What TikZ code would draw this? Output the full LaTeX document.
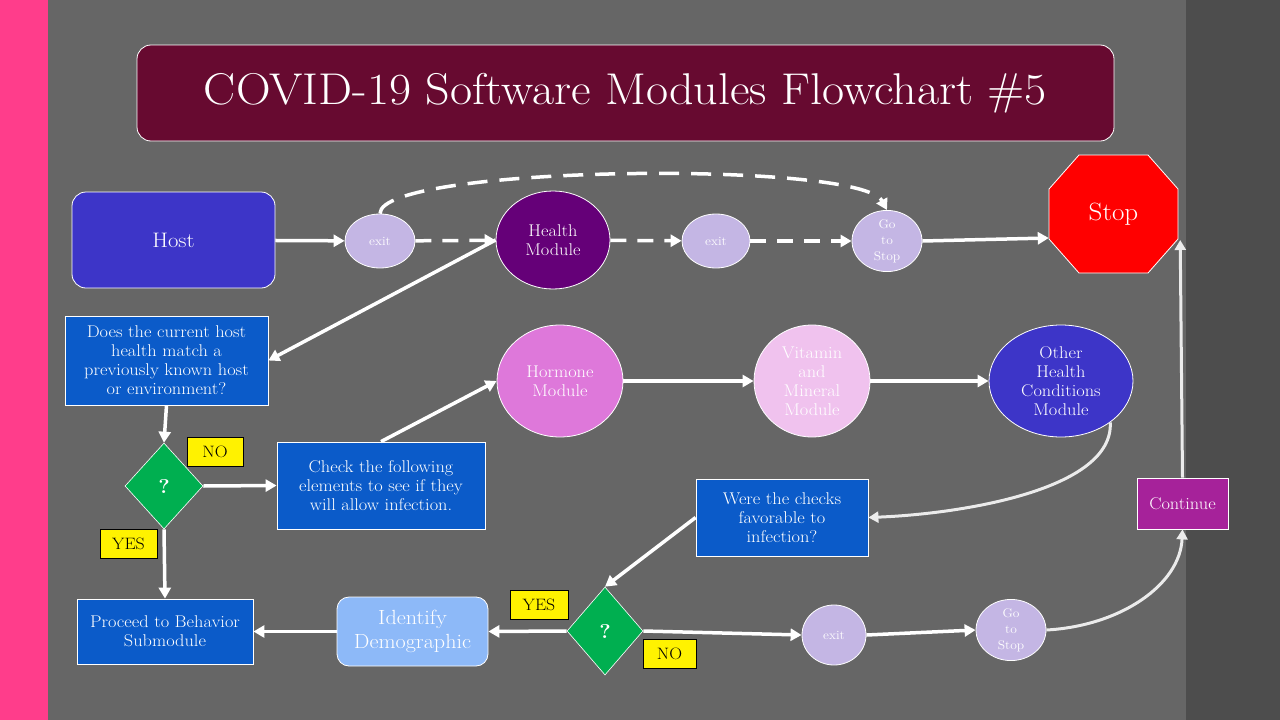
\documentclass[tikz,border=0pt]{standalone}
\usepackage{fontspec}
\setmainfont{Latin Modern Roman}[FakeStretch=1.08]
\usetikzlibrary{shapes.geometric,arrows.meta,calc}
\definecolor{pinkc}{HTML}{FF3D8B}
\definecolor{grayc}{HTML}{666666}
\definecolor{darkc}{HTML}{4D4D4D}
\definecolor{titlec}{HTML}{670A30}
\definecolor{hostc}{HTML}{3D35C8}
\definecolor{lavc}{HTML}{C4B6E4}
\definecolor{healthc}{HTML}{650078}
\definecolor{bluec}{HTML}{0B5BC9}
\definecolor{greenc}{HTML}{00AF50}
\definecolor{hormc}{HTML}{DE78DA}
\definecolor{vitc}{HTML}{F0C2EE}
\definecolor{identc}{HTML}{8DB9F8}
\definecolor{contc}{HTML}{A6229A}
\definecolor{lightc}{HTML}{EBEBEB}
\begin{document}
\begin{tikzpicture}[x=1pt,y=-1pt,
  box/.style={draw=white, line width=0.8pt, text=white, align=center, inner sep=0pt},
  ell/.style={ellipse, draw=white, line width=0.8pt, text=white, align=center, inner sep=0pt, fill=lavc},
  dia/.style={diamond, draw=white, line width=0.6pt, fill=greenc, text=white, inner sep=0pt, font=\fontsize{20}{22}\selectfont\bfseries},
  lbl/.style={draw=black, line width=0.8pt, fill=yellow, text=black, inner sep=0pt, font=\fontsize{16.5}{18}\selectfont},
  arr/.style={draw=white, line width=3.5pt, -{Triangle[length=11pt,width=12pt]}},
  arrl/.style={draw=lightc, line width=3pt, -{Triangle[length=10pt,width=11pt]}},
  body/.style={font=\fontsize{17}{19}\selectfont},
  small/.style={font=\fontsize{12.5}{16}\selectfont}
]
\useasboundingbox (0,0) rectangle (1280,720);
\fill[pinkc] (0,0) rectangle (48,720);
\fill[grayc] (48,0) rectangle (1186,720);
\fill[darkc] (1186,0) rectangle (1280,720);

% title
\node[box, fill=titlec, rounded corners=14pt, minimum width=977pt, minimum height=96pt,
  font=\fontsize{44.5}{50}\selectfont] (title) at (625.5,93) {COVID-19 Software Modules Flowchart \#5};

% top row
\node[box, fill=hostc, rounded corners=14pt, minimum width=203pt, minimum height=96pt,
  font=\fontsize{21}{24}\selectfont] (host) at (173.5,240) {Host};
\node[ell, small, minimum width=70pt, minimum height=54pt] (exit1) at (380,241) {exit};
\node[ell, body, fill=healthc, minimum width=114pt, minimum height=98pt] (health) at (553,240) {Health\\Module};
\node[ell, small, minimum width=68pt, minimum height=54pt] (exit2) at (716,241) {exit};
\node[ell, small, minimum width=70pt, minimum height=54pt] (gts1) at (887,241) {Go\\to\\Stop};
\fill[red, draw=white, line width=0.8pt] (1079,155) -- (1148,155) -- (1178,189) -- (1178,239) -- (1148,273) -- (1079,273) -- (1049,239) -- (1049,189) -- cycle;
\node[text=white, minimum width=129pt, minimum height=118pt, inner sep=0pt,
  font=\fontsize{25}{28}\selectfont] (stop) at (1113.5,214) {Stop};

% left column
\node[box, body, fill=bluec, minimum width=203pt, minimum height=89pt] (does) at (166.5,360.5)
  {Does the current host\\health match a\\previously known host\\or environment?};
\node[dia, minimum width=78pt, minimum height=86pt] (d1) at (164,486) {?};
\node[lbl, minimum width=56pt, minimum height=29pt] (no1) at (215,451.5) {NO};
\node[lbl, minimum width=57pt, minimum height=29pt] (yes1) at (128.5,543.5) {YES};
\node[box, body, fill=bluec, minimum width=208pt, minimum height=87pt] (check) at (381,485.5)
  {Check the following\\elements to see if they\\will allow infection.};

% middle row
\node[ell, body, fill=hormc, minimum width=126pt, minimum height=112pt] (hormone) at (560,381) {Hormone\\Module};
\node[ell, body, fill=vitc, minimum width=116pt, minimum height=112pt] (vitamin) at (812,381) {Vitamin\\and\\Mineral\\Module};
\node[ell, body, fill=hostc, minimum width=144pt, minimum height=112pt] (other) at (1061,381) {Other\\Health\\Conditions\\Module};

% lower area
\node[box, body, fill=bluec, minimum width=172pt, minimum height=77pt] (were) at (782,517.5)
  {Were the checks\\favorable to\\infection?};
\node[dia, minimum width=76pt, minimum height=88pt] (d2) at (605,631) {?};
\node[lbl, minimum width=58pt, minimum height=29pt] (yes2) at (539,604.5) {YES};
\node[lbl, minimum width=53pt, minimum height=29pt] (no2) at (669.5,653.5) {NO};
\node[box, fill=identc, rounded corners=12pt, minimum width=151pt, minimum height=69pt,
  font=\fontsize{20.5}{24}\selectfont] (identify) at (412.5,631.5) {Identify\\Demographic};
\node[box, body, fill=bluec, minimum width=176pt, minimum height=65pt] (proceed) at (165,631.5)
  {Proceed to Behavior\\Submodule};
\node[ell, small, minimum width=64pt, minimum height=60pt] (exit3) at (834,635) {exit};
\node[ell, small, minimum width=70pt, minimum height=54pt] (gts2) at (1011,630) {Go\\to\\Stop};
\node[box, body, fill=contc, minimum width=91pt, minimum height=51pt] (cont) at (1182.5,503.5) {Continue};

% connectors
\draw[arr] (host) -- (exit1);
\draw[arr, dash pattern=on 16pt off 11pt] (exit1) -- (health);
\draw[arr, dash pattern=on 16pt off 11pt] (health) -- (exit2);
\draw[arr, dash pattern=on 16pt off 11pt] (exit2) -- (gts1);
\draw[arr, dash pattern=on 20pt off 12pt] (exit1.north) .. controls (380,165) and (860,160) .. (gts1.north);
\draw[arr] (gts1.east) -- ($(stop.west)+(0,24)$);
\draw[arr] (health.west) -- (does.east);
\draw[arr] (does.south) -- (d1.north);
\draw[arr] (d1.east) -- (check.west);
\draw[arr] (d1.south) -- (proceed.north);
\draw[arr] (check.north) -- (hormone.west);
\draw[arr] (hormone) -- (vitamin);
\draw[arr] (vitamin) -- (other);
\draw[arrl] (other.-40) .. controls (1114,490) and (960,514) .. (were.east);
\draw[arr] (were.west) -- (d2.north);
\draw[arr] (d2.west) -- (identify.east);
\draw[arr] (identify.west) -- (proceed.east);
\draw[arr] (d2.east) -- (exit3.west);
\draw[arr] (exit3.east) -- (gts2.west);
\draw[arrl] (gts2.east) .. controls (1120,626) and (1180,585) .. (cont.south);
\draw[arrl] (cont.north) -- ($(stop.east)+(2,26)$);
\end{tikzpicture}
\end{document}
